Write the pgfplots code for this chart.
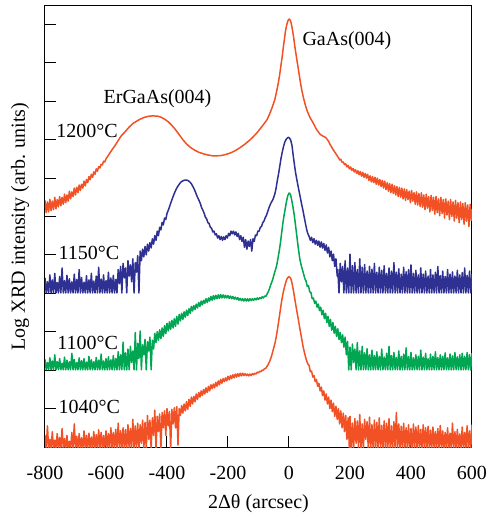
\documentclass[border=0pt]{standalone}
\usepackage{fontspec}
\setmainfont{Liberation Serif}
\usepackage{pgfplots}
\pgfplotsset{compat=1.18}
\definecolor{xred}{RGB}{241,81,36}
\definecolor{xblue}{RGB}{46,49,146}
\definecolor{xgreen}{RGB}{0,166,81}

\begin{document}
\begin{tikzpicture}
\begin{axis}[
  scale only axis, width=213.5pt, height=220.5pt,
  xmin=-800, xmax=600, ymin=0, ymax=11.48,
  xtick={-800,-600,...,600},
  xticklabels={-800,-600,-400,-200,0,200,400,600},
  ytick={1,2,...,11}, yticklabels={},
  tick align=inside, xtick pos=left, ytick pos=left,
  major tick length=5.5pt,
  every tick/.style={black, line width=0.5pt},
  axis line style={black, line width=0.5pt},
  tick label style={font=\fontsize{10}{12}\selectfont},
  xticklabel style={yshift=-6pt},
  xlabel={2Δθ (arcsec)},
  ylabel={Log XRD intensity (arb. units)},
  label style={font=\fontsize{10}{12}\selectfont},
  xlabel style={at={(axis description cs:0.5,-0.1395)}, anchor=base},
  ylabel style={at={(axis description cs:-0.047,0.5)}, anchor=base},
  every axis plot/.append style={line width=0.75pt, line join=round},
]
\coordinate (bl) at (rel axis cs:0,0);
\coordinate (tr) at (rel axis cs:1,1);

% 1040 C
\addplot[xred] coordinates {
(-800,0.30) (-796,-0.05) (-792,0.55) (-788,-0.05) (-784,0.20) (-780,-0.05) (-776,0.40) (-772,-0.05)
(-768,0.18) (-764,-0.05) (-760,0.35) (-756,-0.05) (-752,0.25) (-748,-0.05) (-744,0.48) (-740,-0.05)
(-736,0.22) (-732,-0.05) (-728,0.30) (-724,-0.05) (-720,0.15) (-716,-0.05) (-712,0.38) (-708,-0.05)
(-704,0.60) (-700,-0.05) (-696,0.28) (-692,-0.05) (-688,0.35) (-684,-0.05) (-680,0.24) (-676,-0.05)
(-672,0.42) (-668,-0.05) (-664,0.30) (-660,-0.05) (-656,0.36) (-652,-0.05) (-648,0.26) (-644,-0.05)
(-640,0.40) (-636,-0.05) (-632,0.32) (-628,-0.05) (-624,0.45) (-620,-0.05)
(-616,0.38) (-612,-0.05) (-608,0.30) (-604,-0.05) (-600,0.42) (-596,-0.05) (-592,0.35) (-588,-0.05)
(-584,0.50) (-580,-0.05) (-576,0.38) (-572,-0.05) (-568,0.46) (-564,-0.05) (-560,0.62) (-556,-0.05)
(-552,0.42) (-548,-0.05) (-544,0.50) (-540,-0.05) (-536,0.45) (-532,-0.05) (-528,0.58) (-524,-0.05)
(-520,0.48) (-516,-0.05) (-512,0.72) (-508,-0.05) (-504,0.55) (-500,-0.05) (-496,0.62) (-492,-0.05)
(-488,0.58) (-484,0.10) (-480,0.70) (-476,-0.05) (-472,0.64) (-468,-0.05) (-464,0.82) (-460,0.20)
(-456,0.70) (-452,-0.05) (-448,0.76) (-444,0.30) (-440,0.96) (-436,-0.05) (-432,0.80) (-428,0.40)
(-424,0.86) (-420,-0.05) (-416,0.90) (-412,0.50) (-408,0.94) (-404,0.30) (-400,1.00) (-396,0.55)
(-392,0.92) (-388,-0.05) (-384,0.98) (-380,0.60) (-376,1.02) (-372,0.50) (-368,1.05) (-364,0.05)
(-360,1.00) (-356,0.82) (-352,1.08) (-348,0.88) (-344,1.12) (-340,0.94) (-336,1.18) (-332,0.98)
(-328,1.24) (-324,1.06) (-320,1.30) (-316,1.12) (-312,1.32) (-308,1.18) (-304,1.38) (-300,1.24)
(-296,1.42) (-292,1.30) (-288,1.46) (-284,1.34) (-280,1.50) (-276,1.38) (-272,1.54) (-268,1.42)
(-264,1.58) (-260,1.46) (-256,1.62) (-252,1.52) (-248,1.64) (-244,1.54) (-240,1.68) (-236,1.58)
(-232,1.72) (-228,1.62) (-224,1.76) (-220,1.66) (-216,1.78) (-212,1.70) (-208,1.80) (-204,1.72)
(-200,1.84) (-196,1.75) (-192,1.86) (-188,1.78) (-184,1.88) (-180,1.80) (-176,1.90) (-172,1.82)
(-168,1.91) (-164,1.84) (-160,1.92) (-156,1.85) (-152,1.92) (-148,1.86) (-144,1.91) (-140,1.86)
(-136,1.90) (-132,1.85) (-128,1.90) (-124,1.86) (-120,1.91) (-116,1.88) (-112,1.92) (-108,1.90)
(-104,1.95) (-100,1.93) (-96,1.97) (-92,1.96) (-88,2.00) (-84,2.00) (-80,2.04) (-76,2.05)
(-72,2.10) (-68,2.15) (-64,2.22) (-60,2.30) (-56,2.40) (-51,2.55) (-46,2.70) (-42,2.86)
(-39,3.00) (-34,3.26) (-30,3.48) (-26,3.70) (-23,3.85) (-19,4.02) (-16,4.12) (-12,4.25)
(-8,4.35) (-4,4.41) (0,4.43) (3,4.42) (6,4.38) (9,4.30) (12,4.18) (15,4.05) (18,3.90) (21,3.76)
(24,3.62) (27,3.48) (30,3.35) (34,3.16) (38,2.98) (42,2.80) (46,2.62) (50,2.48) (54,2.35)
(58,2.24) (62,2.16) (66,2.12) (70,1.96) (74,1.98) (78,1.82) (82,1.86) (86,1.70) (90,1.76)
(94,1.58) (98,1.66) (102,1.46) (106,1.56) (110,1.34) (114,1.46) (118,1.22) (122,1.38) (126,1.12)
(130,1.30) (134,1.00) (138,1.22) (142,0.92) (146,1.14) (150,0.80) (154,1.06) (158,0.72)
(162,1.00) (166,0.60) (170,0.94) (174,0.50) (178,0.88) (182,0.40) (186,0.82) (190,0.20)
(194,0.76) (198,-0.05)
(200,0.80) (204,-0.05) (208,0.62) (212,-0.05) (216,0.74) (220,0.10) (224,0.68) (228,-0.05)
(232,0.84) (236,-0.05) (240,0.60) (244,-0.05) (248,0.72) (252,0.20) (256,0.66) (260,-0.05)
(264,0.78) (268,-0.05) (272,0.58) (276,-0.05) (280,0.70) (284,-0.05) (288,0.64) (292,-0.05)
(296,0.76) (300,-0.05) (304,0.56) (308,-0.05) (312,0.68) (316,-0.05) (320,0.62) (324,-0.05)
(328,0.74) (332,-0.05) (336,0.55) (340,-0.05) (344,0.66) (348,-0.05) (352,0.90) (356,-0.05)
(360,0.60) (364,-0.05) (368,0.54) (372,-0.05) (376,0.62) (380,-0.05) (384,0.50) (388,-0.05)
(392,0.58) (396,-0.05) (400,0.48) (404,-0.05) (408,0.60) (412,-0.05) (416,0.52) (420,-0.05)
(424,0.56) (428,-0.05) (432,0.46) (436,-0.05) (440,0.58) (444,-0.05) (448,0.50) (452,-0.05)
(456,0.54) (460,-0.05) (464,0.44) (468,-0.05) (472,0.52) (476,-0.05) (480,0.40) (484,-0.05)
(488,0.48) (492,-0.05) (496,0.56) (500,-0.05) (504,0.42) (508,-0.05) (512,0.38) (516,-0.05)
(520,0.50) (524,-0.05) (528,0.36) (532,-0.05) (536,0.62) (540,-0.05) (544,0.40) (548,-0.05)
(552,0.46) (556,-0.05) (560,0.34) (564,-0.05) (568,0.52) (572,-0.05) (576,0.38) (580,-0.05)
(584,0.55) (588,-0.05) (592,0.42) (596,-0.05) (600,0.58)
};

% 1100 C
\addplot[xgreen] coordinates {
(-800,2.28) (-796,2.01) (-792,2.20) (-788,2.01) (-784,2.32) (-780,2.01) (-776,2.24) (-772,2.01)
(-768,2.40) (-764,2.01) (-760,2.22) (-756,2.01) (-752,2.30) (-748,2.01) (-744,2.18) (-740,2.01)
(-736,2.34) (-732,2.01) (-728,2.26) (-724,2.01) (-720,2.22) (-716,2.01) (-712,2.44) (-708,2.01)
(-704,2.28) (-700,2.01) (-696,2.20) (-692,2.01) (-688,2.32) (-684,2.01) (-680,2.25) (-676,2.01)
(-672,2.30) (-668,2.01) (-664,2.21) (-660,2.01) (-656,2.36) (-652,2.01) (-648,2.27) (-644,2.01)
(-640,2.22) (-636,2.01) (-632,2.33) (-628,2.01) (-624,2.26) (-620,2.01) (-616,2.42) (-612,2.01)
(-608,2.24) (-604,2.01) (-600,2.30) (-596,2.01) (-592,2.35) (-588,2.01) (-584,2.27) (-580,2.01)
(-576,2.38) (-572,2.01) (-568,2.30) (-564,2.01) (-560,2.48) (-556,2.01)
(-552,2.40) (-548,2.01) (-544,2.73) (-540,2.01) (-536,2.45) (-532,2.01) (-528,2.55) (-524,2.01)
(-520,2.62) (-516,2.20) (-512,2.50) (-508,2.01) (-504,2.98) (-500,2.01) (-496,2.70) (-492,2.30)
(-488,3.02) (-484,2.01) (-480,2.66) (-476,2.40) (-472,2.80) (-468,2.01) (-464,2.74) (-460,2.50)
(-456,2.86) (-452,2.01) (-448,2.78) (-444,2.55)
(-440,2.96) (-436,2.72) (-432,3.00) (-428,2.78) (-424,3.05) (-420,2.82) (-416,3.10) (-412,2.88)
(-408,3.16) (-404,2.95) (-400,3.22) (-396,3.02) (-392,3.26) (-388,3.06) (-384,3.30) (-380,3.10)
(-376,3.34) (-372,3.14) (-368,3.40) (-364,3.20) (-360,3.45) (-356,3.28) (-352,3.48) (-348,3.32)
(-344,3.52) (-340,3.38) (-336,3.56) (-332,3.42) (-328,3.60) (-324,3.48) (-320,3.66) (-316,3.54)
(-312,3.68) (-308,3.58) (-304,3.72) (-300,3.62) (-296,3.76) (-292,3.66) (-288,3.80) (-284,3.70)
(-280,3.82) (-276,3.74) (-272,3.86) (-268,3.76) (-264,3.88) (-260,3.80) (-256,3.92) (-252,3.82)
(-248,3.94) (-244,3.84) (-240,3.95) (-236,3.86) (-232,3.96) (-228,3.87) (-224,3.97) (-220,3.88)
(-216,3.96) (-212,3.88) (-208,3.95) (-204,3.88) (-200,3.94) (-196,3.87) (-192,3.93) (-188,3.86)
(-184,3.92) (-180,3.85) (-176,3.90) (-172,3.84) (-168,3.89) (-164,3.82) (-160,3.87) (-156,3.81)
(-152,3.86) (-148,3.80) (-144,3.86) (-140,3.80) (-136,3.86) (-132,3.80) (-128,3.86) (-124,3.81)
(-120,3.86) (-116,3.82) (-112,3.87) (-108,3.83) (-104,3.88) (-100,3.84) (-96,3.89) (-92,3.86)
(-88,3.91) (-84,3.88) (-80,3.93) (-76,3.92) (-72,3.98)
(-68,4.04) (-64,4.12) (-60,4.22) (-56,4.30) (-52,4.40) (-48,4.52) (-44,4.62) (-40,4.74)
(-36,4.92) (-32,5.10) (-28,5.32) (-24,5.58) (-20,5.83) (-16,6.04) (-12,6.22) (-8,6.40)
(-4,6.54) (0,6.61) (3,6.60) (6,6.54) (9,6.42) (13,6.25) (17,6.05) (21,5.80) (26,5.47)
(31,5.15) (36,4.87) (41,4.70) (46,4.56) (52,4.38)
(56,4.32) (60,4.18) (64,4.20) (68,4.04) (72,4.02) (76,3.86) (80,3.88) (84,3.74) (88,3.80)
(92,3.64) (96,3.72) (100,3.55) (104,3.64) (108,3.44) (112,3.56) (116,3.34) (120,3.48)
(124,3.24) (128,3.40) (132,3.14) (136,3.32) (140,3.04) (144,3.24) (148,2.96) (152,3.14)
(156,2.88) (160,3.08) (164,2.80) (168,2.98) (172,2.72) (176,2.92) (180,2.60) (184,2.86) (188,2.40)
(192,2.75) (196,2.01) (200,2.60) (204,2.01) (208,2.68) (212,2.20) (216,2.55) (220,2.01)
(224,2.72) (228,2.01) (232,2.50) (236,2.01) (240,2.62) (244,2.01) (248,2.45) (252,2.01)
(256,2.56) (260,2.01) (264,2.40) (268,2.01) (272,2.52) (276,2.01) (280,2.38) (284,2.01)
(288,2.48) (292,2.01) (296,2.36) (300,2.01) (304,2.55) (308,2.01) (312,2.34) (316,2.01)
(320,2.44) (324,2.01) (328,2.62) (332,2.01) (336,2.38) (340,2.01) (344,2.46) (348,2.01)
(352,2.33) (356,2.01) (360,2.50) (364,2.01) (368,2.36) (372,2.01) (376,2.42) (380,2.01)
(384,2.58) (388,2.01) (392,2.35) (396,2.01) (400,2.46) (404,2.01) (408,2.32) (412,2.01)
(416,2.40) (420,2.01) (424,2.36) (428,2.01) (432,2.52) (436,2.01) (440,2.34) (444,2.01)
(448,2.44) (452,2.01) (456,2.30) (460,2.01) (464,2.42) (468,2.01) (472,2.36) (476,2.01)
(480,2.48) (484,2.01) (488,2.33) (492,2.01) (496,2.40) (500,2.01) (504,2.36) (508,2.01)
(512,2.45) (516,2.01) (520,2.32) (524,2.01) (528,2.42) (532,2.01) (536,2.37) (540,2.01)
(544,2.46) (548,2.01) (552,2.35) (556,2.01) (560,2.40) (564,2.01) (568,2.44) (572,2.01)
(576,2.36) (580,2.01) (584,2.46) (588,2.01) (592,2.40) (596,2.01) (600,2.44)
};

% 1150 C
\addplot[xblue] coordinates {
(-800,4.40) (-796,4.01) (-792,4.30) (-788,4.01) (-784,4.48) (-780,4.01) (-776,4.35) (-772,4.01)
(-768,4.52) (-764,4.01) (-760,4.28) (-756,4.01) (-752,4.44) (-748,4.01) (-744,4.66) (-740,4.01)
(-736,4.33) (-732,4.01) (-728,4.47) (-724,4.01) (-720,4.38) (-716,4.01) (-712,4.30) (-708,4.01)
(-704,4.50) (-700,4.01) (-696,4.36) (-692,4.01) (-688,4.62) (-684,4.01) (-680,4.41) (-676,4.01)
(-672,4.29) (-668,4.01) (-664,4.46) (-660,4.01) (-656,4.35) (-652,4.01) (-648,4.52) (-644,4.01)
(-640,4.32) (-636,4.01) (-632,4.45) (-628,4.01) (-624,4.68) (-620,4.01) (-616,4.37) (-612,4.01)
(-608,4.48) (-604,4.01) (-600,4.33) (-596,4.01) (-592,4.55) (-588,4.01) (-584,4.40) (-580,4.01)
(-576,4.47) (-572,4.01) (-568,4.36) (-564,4.01)
(-560,4.62) (-556,4.25) (-552,4.70) (-548,4.01) (-544,4.78) (-540,4.40) (-536,4.66) (-532,4.01)
(-528,4.85) (-524,4.45) (-520,4.74) (-516,4.30) (-512,4.90) (-508,4.01) (-504,4.80) (-500,4.55)
(-496,4.98) (-492,4.01)
(-488,5.10) (-484,4.85) (-480,5.15) (-476,4.95) (-472,5.22) (-468,5.00) (-464,5.28) (-460,5.10)
(-456,5.32) (-452,5.18) (-448,5.42) (-444,5.28) (-440,5.50) (-436,5.38) (-432,5.62) (-428,5.50)
(-424,5.72) (-420,5.65) (-416,5.85) (-412,5.78) (-408,5.96) (-404,5.92)
(-400,6.08) (-395,6.18) (-390,6.30) (-385,6.41) (-380,6.52) (-375,6.62) (-370,6.71) (-365,6.78)
(-360,6.84) (-355,6.89) (-350,6.92) (-345,6.94) (-340,6.95) (-335,6.95) (-330,6.93) (-325,6.90)
(-320,6.85) (-315,6.78) (-310,6.70) (-305,6.60) (-300,6.50) (-295,6.42) (-290,6.32) (-286,6.22)
(-282,6.16) (-278,6.08) (-274,5.98) (-270,5.94) (-266,5.84) (-262,5.82) (-258,5.72) (-254,5.70)
(-250,5.60) (-246,5.62) (-242,5.52) (-238,5.55) (-234,5.44) (-230,5.50) (-226,5.40) (-222,5.48)
(-218,5.38) (-214,5.47) (-210,5.40) (-206,5.50) (-202,5.44) (-198,5.56) (-194,5.50) (-190,5.62)
(-186,5.55) (-182,5.62) (-178,5.52) (-174,5.60) (-170,5.48) (-166,5.56) (-162,5.40) (-158,5.50)
(-154,5.35) (-150,5.46) (-146,5.20) (-142,5.40) (-138,5.15) (-134,5.36) (-130,5.22) (-126,5.40)
(-122,5.10) (-118,5.42) (-114,5.35) (-110,5.52) (-106,5.50) (-102,5.62) (-98,5.62) (-94,5.72)
(-90,5.74) (-86,5.84) (-82,5.88) (-78,5.97) (-74,6.03) (-70,6.12) (-66,6.22) (-62,6.30)
(-58,6.37) (-54,6.42) (-50,6.50) (-46,6.60) (-42,6.75) (-38,6.95) (-34,7.12) (-30,7.32)
(-26,7.52) (-22,7.68) (-18,7.82) (-14,7.93) (-10,8.00) (-6,8.04) (-2,8.06) (2,8.04) (6,7.98)
(10,7.84) (14,7.58) (18,7.34) (22,7.12) (26,6.95) (30,6.78) (34,6.62) (38,6.46) (42,6.30)
(46,6.15) (50,5.98) (54,5.82) (58,5.66) (62,5.55) (66,5.48) (70,5.38) (74,5.46) (78,5.32)
(82,5.42) (86,5.28) (90,5.38) (94,5.25) (98,5.36) (102,5.20) (106,5.34) (110,5.18) (114,5.30)
(118,5.12) (122,5.26) (126,5.05) (130,5.20) (134,4.95) (138,5.10) (142,4.85) (146,5.02)
(150,4.70) (154,4.90) (158,4.45)
(160,4.62) (164,4.01) (168,4.78) (172,4.30) (176,4.70) (180,4.01) (184,4.85) (188,4.01)
(192,4.66) (196,4.01) (200,5.02) (204,4.01) (208,4.72) (212,4.01) (216,4.80) (220,4.01)
(224,4.62) (228,4.01) (232,4.90) (236,4.01) (240,4.68) (244,4.01) (248,4.75) (252,4.01)
(256,4.58) (260,4.01) (264,4.70) (268,4.01) (272,4.63) (276,4.01) (280,4.78) (284,4.01)
(288,4.55) (292,4.01) (296,4.68) (300,4.01) (304,4.60) (308,4.01) (312,4.72) (316,4.01)
(320,4.52) (324,4.01) (328,4.66) (332,4.01) (336,4.58) (340,4.01) (344,4.80) (348,4.01)
(352,4.55) (356,4.01) (360,4.64) (364,4.01) (368,4.50) (372,4.01) (376,4.68) (380,4.01)
(384,4.56) (388,4.01) (392,4.62) (396,4.01) (400,4.74) (404,4.01) (408,4.52) (412,4.01)
(416,4.60) (420,4.01) (424,4.48) (428,4.01) (432,4.66) (436,4.01) (440,4.50) (444,4.01)
(448,4.58) (452,4.01) (456,4.45) (460,4.01) (464,4.62) (468,4.01) (472,4.48) (476,4.01)
(480,4.55) (484,4.01) (488,4.70) (492,4.01) (496,4.46) (500,4.01) (504,4.58) (508,4.01)
(512,4.44) (516,4.01) (520,4.62) (524,4.01) (528,4.50) (532,4.01) (536,4.56) (540,4.01)
(544,4.45) (548,4.01) (552,4.60) (556,4.01) (560,4.48) (564,4.01) (568,4.54) (572,4.01)
(576,4.66) (580,4.01) (584,4.47) (588,4.01) (592,4.58) (596,4.01) (600,4.50)
};

% 1200 C
\addplot[xred] coordinates {
(-800,6.42) (-796,6.10) (-792,6.38) (-788,6.12) (-784,6.45) (-780,6.15) (-776,6.40) (-772,6.18)
(-768,6.50) (-764,6.20) (-760,6.44) (-756,6.25) (-752,6.52) (-748,6.28) (-744,6.50) (-740,6.32)
(-736,6.58) (-732,6.36) (-728,6.56) (-724,6.40) (-720,6.66) (-716,6.46) (-712,6.64) (-708,6.52)
(-704,6.74) (-700,6.56) (-696,6.76) (-692,6.62) (-688,6.82) (-684,6.68) (-680,6.84) (-676,6.74)
(-672,6.92) (-668,6.80) (-664,6.96) (-660,6.88) (-656,7.04) (-652,6.96) (-648,7.10) (-644,7.02)
(-640,7.16) (-636,7.10) (-632,7.24) (-628,7.18) (-624,7.30) (-620,7.26) (-616,7.36) (-612,7.34)
(-608,7.44) (-604,7.42)
(-600,7.50) (-590,7.62) (-580,7.74) (-571,7.84) (-560,7.98) (-550,8.10) (-538,8.20) (-525,8.32)
(-512,8.42) (-500,8.48) (-489,8.53) (-475,8.58) (-460,8.61) (-446,8.62) (-430,8.61) (-418,8.58)
(-407,8.53) (-395,8.46) (-385,8.38) (-374,8.28) (-360,8.13) (-348,8.00) (-336,7.89) (-325,7.81)
(-310,7.73) (-295,7.67) (-280,7.63) (-265,7.60) (-250,7.58) (-236,7.58) (-220,7.59) (-205,7.62)
(-190,7.66) (-175,7.72) (-161,7.79) (-145,7.88) (-130,7.98) (-118,8.07) (-105,8.18) (-95,8.28)
(-85,8.38) (-72,8.52) (-64,8.66) (-56,8.82) (-50,8.96) (-46,9.06) (-40,9.28) (-35,9.48)
(-30,9.72) (-27,9.90) (-23,10.12) (-19,10.38) (-15,10.62) (-12,10.80) (-8,10.97) (-5,11.06)
(-2,11.12) (1,11.14) (4,11.11) (7,11.04) (10,10.92) (13,10.78) (16,10.62) (20,10.38) (25,10.12)
(29,9.92) (33,9.72) (38,9.46) (43,9.25) (49,9.04) (55,8.86) (62,8.70) (70,8.56) (79,8.44)
(90,8.27) (102,8.14) (112,8.09) (120,8.06) (128,7.98) (136,7.86) (144,7.75) (155,7.62) (167,7.47)
(170,7.49) (174,7.41) (178,7.42) (182,7.35) (186,7.37) (190,7.29) (194,7.33) (198,7.24)
(202,7.29) (206,7.20) (210,7.25) (214,7.16) (218,7.22) (222,7.12) (226,7.19) (230,7.09)
(234,7.17) (238,7.05) (242,7.15) (246,7.02) (250,7.12) (254,7.00) (258,7.10) (262,6.94)
(266,7.06) (270,6.90) (274,7.04) (278,6.88) (282,7.02) (286,6.84) (290,7.00) (294,6.82)
(298,6.96) (302,6.78) (306,6.94) (310,6.74) (314,6.92) (318,6.70) (322,6.88) (326,6.66)
(330,6.86) (334,6.62) (338,6.84) (342,6.60) (346,6.80) (350,6.56) (354,6.78) (358,6.52)
(362,6.76) (366,6.50) (370,6.74) (374,6.46) (378,6.72) (382,6.42) (386,6.70) (390,6.44)
(394,6.66) (398,6.36) (402,6.68) (406,6.40) (410,6.62) (414,6.32) (418,6.64) (422,6.30)
(426,6.60) (430,6.26) (434,6.62) (438,6.24) (442,6.56) (446,6.18) (450,6.58) (454,6.22)
(458,6.52) (462,6.12) (466,6.55) (470,6.16) (474,6.50) (478,6.06) (482,6.52) (486,6.10)
(490,6.46) (494,6.02) (498,6.50) (502,6.08) (506,6.44) (510,5.96) (514,6.46) (518,6.04)
(522,6.40) (526,5.92) (530,6.44) (534,6.00) (538,6.38) (542,5.88) (546,6.42) (550,5.96)
(554,6.36) (558,5.84) (562,6.38) (566,5.92) (570,6.34) (574,5.80) (578,6.36) (582,5.88)
(586,6.30) (590,5.74) (594,6.32) (598,5.90) (600,6.20)
};

\node[font=\fontsize{10}{12}\selectfont] at (axis cs:190,10.57) {GaAs(004)};
\node[font=\fontsize{10}{12}\selectfont] at (axis cs:-431,9.08) {ErGaAs(004)};
\node[font=\fontsize{10}{12}\selectfont, anchor=west, inner sep=0pt] at (axis cs:-764,8.23) {1200°C};
\node[font=\fontsize{10}{12}\selectfont, anchor=west, inner sep=0pt] at (axis cs:-757,5.04) {1150°C};
\node[font=\fontsize{10}{12}\selectfont, anchor=west, inner sep=0pt] at (axis cs:-761,2.71) {1100°C};
\node[font=\fontsize{10}{12}\selectfont, anchor=west, inner sep=0pt] at (axis cs:-757,1.04) {1040°C};
\end{axis}
\pgfresetboundingbox
\useasboundingbox ([shift={(-22.5pt,-34pt)}]bl) rectangle ([shift={(8pt,3pt)}]tr);
\end{tikzpicture}
\end{document}
